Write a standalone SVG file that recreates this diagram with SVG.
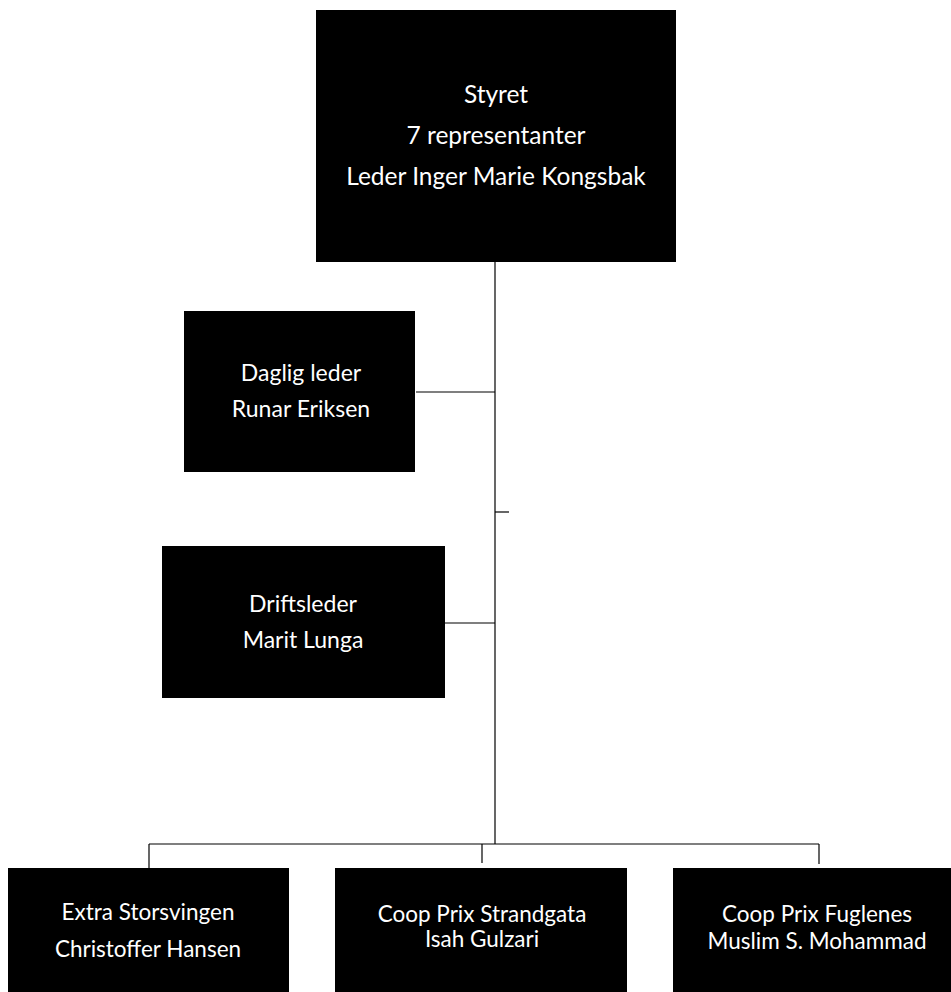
<svg xmlns="http://www.w3.org/2000/svg" width="951" height="992" viewBox="0 0 951 992">
<style>
.box{fill:#000;}
.t{fill:#fff;font-family:Lato,"Liberation Sans",sans-serif;text-anchor:middle;}
.big{font-size:24.5px;}
.mid{font-size:23px;}
.sm{font-size:22.5px;}
.c{stroke:#000;stroke-width:1.2;fill:none;}
</style>
<rect width="951" height="992" fill="#fff"/>
<g id="connectors">
<line class="c" x1="495" y1="262" x2="495" y2="844"/>
<line class="c" x1="416" y1="392" x2="495" y2="392"/>
<line class="c" x1="495" y1="512" x2="509" y2="512"/>
<line class="c" x1="445" y1="623" x2="495" y2="623"/>
<line class="c" x1="149" y1="844" x2="819" y2="844"/>
<line class="c" x1="149" y1="844" x2="149" y2="868"/>
<line class="c" x1="482" y1="844" x2="482" y2="863"/>
<line class="c" x1="819" y1="844" x2="819" y2="864"/>
</g>
<g id="styret">
<rect class="box" x="316" y="10" width="360" height="252"/>
<text class="t big" x="496" y="103">Styret</text>
<text class="t big" x="496" y="144">7 representanter</text>
<text class="t big" x="496" y="185">Leder Inger Marie Kongsbak</text>
</g>
<g id="daglig">
<rect class="box" x="184" y="311" width="231" height="161"/>
<text class="t mid" x="301" y="381">Daglig leder</text>
<text class="t mid" x="301" y="417">Runar Eriksen</text>
</g>
<g id="drift">
<rect class="box" x="162" y="546" width="283" height="152"/>
<text class="t mid" x="303" y="612">Driftsleder</text>
<text class="t mid" x="303" y="648">Marit Lunga</text>
</g>
<g id="extra">
<rect class="box" x="8" y="868" width="281" height="124"/>
<text class="t sm" x="148" y="920">Extra Storsvingen</text>
<text class="t sm" x="148" y="957">Christoffer Hansen</text>
</g>
<g id="strandgata">
<rect class="box" x="335" y="868" width="292" height="124"/>
<text class="t sm" x="482" y="922">Coop Prix Strandgata</text>
<text class="t sm" x="482" y="947">Isah Gulzari</text>
</g>
<g id="fuglenes">
<rect class="box" x="673" y="868" width="278" height="124"/>
<text class="t sm" x="817" y="922">Coop Prix Fuglenes</text>
<text class="t sm" x="817" y="949">Muslim S. Mohammad</text>
</g>
</svg>
